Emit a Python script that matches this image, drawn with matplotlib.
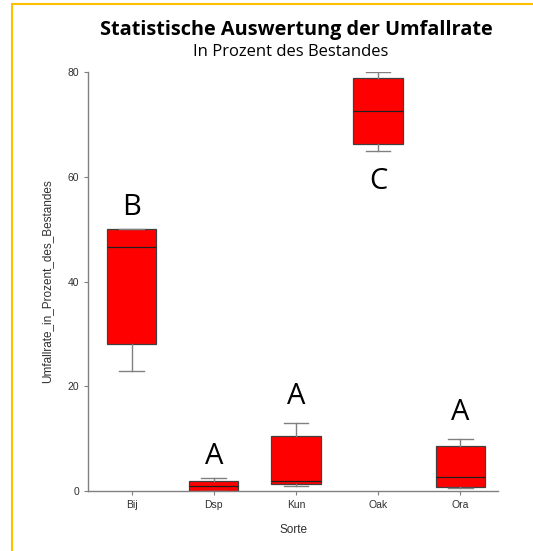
import matplotlib.pyplot as plt
from matplotlib.patches import Rectangle

sorten = ["Bij", "Dsp", "Kun", "Oak", "Ora"]
whisker_low = [23.0, 0.0, 1.0, 65.0, 0.5]
q1 = [28.0, 0.0, 1.3, 66.3, 0.8]
median = [46.5, 1.0, 2.0, 72.6, 2.7]
q3 = [50.0, 2.0, 10.5, 78.8, 8.5]
whisker_high = [50.0, 2.5, 13.0, 80.0, 10.0]
letters = ["B", "A", "A", "C", "A"]
letter_y = [54.2, 6.5, 18.0, 59.0, 15.0]

W, H = 533, 551
fig = plt.figure(figsize=(W / 100, H / 100), dpi=100)
ax = fig.add_axes([88 / W, (H - 491) / H, (498 - 88) / W, (491 - 72) / H])

stats = []
for i, name in enumerate(sorten):
    stats.append({
        "label": name, "whislo": whisker_low[i], "q1": q1[i], "med": median[i],
        "q3": q3[i], "whishi": whisker_high[i], "fliers": [],
    })

ax.bxp(stats, positions=range(len(sorten)), widths=0.6, patch_artist=True,
       showfliers=False,
       boxprops=dict(facecolor="#ff0000", edgecolor="#404040", linewidth=0.9),
       medianprops=dict(color="#202020", linewidth=0.9),
       whiskerprops=dict(color="#808080", linewidth=1.0),
       capprops=dict(color="#808080", linewidth=1.0),
       capwidths=0.3)

for i, (lt, ly) in enumerate(zip(letters, letter_y)):
    ax.text(i, ly, lt, ha="center", va="center", fontsize=21, family="Open Sans")

ax.set_xlim(-0.53, 4.46)
ax.set_ylim(0, 80)
ax.set_yticks([0, 20, 40, 60, 80])
for s in ["top", "right"]:
    ax.spines[s].set_visible(False)
for s in ["left", "bottom"]:
    ax.spines[s].set_color("#808080")
    ax.spines[s].set_linewidth(1.0)
ax.tick_params(colors="#808080", labelcolor="#303030", labelsize=7.5, length=3, width=0.8)
for lbl in ax.get_xticklabels() + ax.get_yticklabels():
    lbl.set_family("Liberation Sans")

ax.set_xlabel("Sorte", fontsize=8.5, family="Liberation Sans", color="#303030", labelpad=10)
ax.set_ylabel("Umfallrate_in_Prozent_des_Bestandes", fontsize=8.5,
              family="Liberation Sans", color="#303030", labelpad=10)

fig.text(296 / W, 1 - 30 / H, "Statistische Auswertung der Umfallrate", ha="center",
         va="center", fontsize=14.3, fontweight="bold", family="Open Sans")
fig.text(291 / W, 1 - 52 / H, "In Prozent des Bestandes", ha="center", va="center",
         fontsize=12, family="Open Sans")

# golden frame around the chart area
fig.add_artist(Rectangle((12 / W, -0.05), 1.2, 1 - 4 / H + 0.05, transform=fig.transFigure,
                         fill=False, edgecolor="#ffc000", linewidth=1.5))

fig.savefig("out.png", dpi=100)
